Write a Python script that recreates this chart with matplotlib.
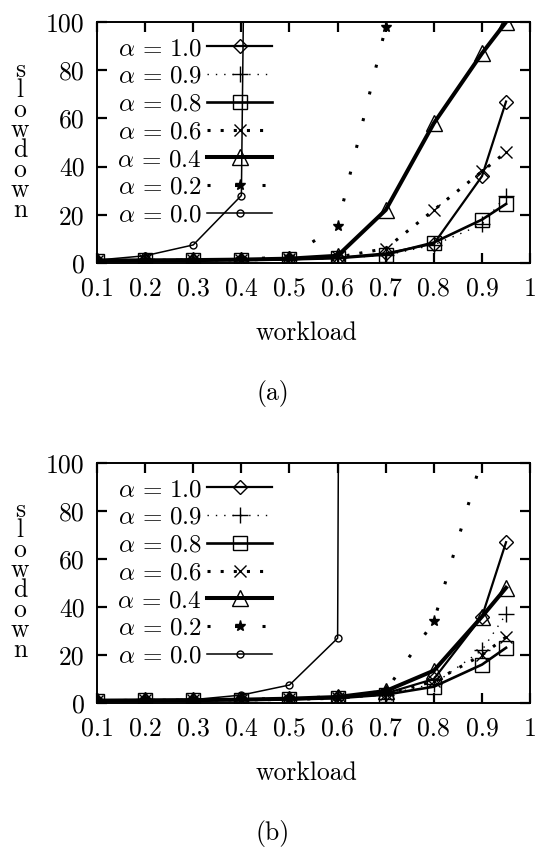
import matplotlib
matplotlib.use("Agg")
import matplotlib.pyplot as plt

plt.rcParams['font.family'] = 'cmr10'
plt.rcParams['mathtext.fontset'] = 'cm'
plt.rcParams['axes.formatter.use_mathtext'] = True

# workload values
x = [0.1, 0.2, 0.3, 0.4, 0.5, 0.6, 0.7, 0.8, 0.9, 0.95]

# (a)
a_10 = [1.0, 1.1, 1.2, 1.3, 1.5, 2.2, 4.0, 8.0, 36, 67]
a_09 = [1.0, 1.1, 1.2, 1.3, 1.5, 2.0, 3.2, 7.5, 16, 28]
a_08 = [1.0, 1.1, 1.2, 1.3, 1.5, 2.0, 3.5, 8.5, 18, 24.5]
a_06 = [1.0, 1.1, 1.2, 1.3, 1.6, 2.4, 6.0, 22, 38, 46]
a_04 = [1.0, 1.1, 1.2, 1.4, 1.8, 3.0, 22, 58, 87, 100]
a_02 = [1.0, 1.1, 1.3, 1.6, 2.5, 15.5, 98]
a_00 = [1.2, 3.0, 7.5, 28, 1830]

# (b)
b_10 = [1.0, 1.1, 1.2, 1.4, 1.7, 2.3, 4.0, 10, 36, 67]
b_09 = [1.0, 1.1, 1.2, 1.3, 1.5, 2.0, 3.5, 8.0, 22, 37]
b_08 = [1.0, 1.1, 1.2, 1.3, 1.5, 2.0, 3.5, 6.8, 16, 23]
b_06 = [1.0, 1.1, 1.2, 1.3, 1.5, 2.0, 3.8, 9.0, 20, 27.5]
b_04 = [1.0, 1.1, 1.2, 1.4, 1.8, 2.5, 5.0, 13.5, 36, 48]
b_02 = [1.0, 1.1, 1.2, 1.5, 2.0, 2.6, 5.0, 34, 102]
b_00 = [1.2, 1.4, 1.4, 3.3, 7.5, 27, 5000]

labels = [r'$\alpha\,=\,1.0$', r'$\alpha\,=\,0.9$', r'$\alpha\,=\,0.8$', r'$\alpha\,=\,0.6$',
          r'$\alpha\,=\,0.4$', r'$\alpha\,=\,0.2$', r'$\alpha\,=\,0.0$']

styles = [
    dict(ls='-', lw=1.6, marker='D', ms=7.5),
    dict(ls=(0, (1, 5)), lw=1.0, marker='+', ms=12),
    dict(ls='-', lw=1.9, marker='s', ms=9.5),
    dict(ls=(0, (1, 3.3)), lw=2.2, marker='x', ms=9),
    dict(ls='-', lw=2.9, marker='^', ms=12),
    dict(ls=(0, (1, 8)), lw=2.2, marker='*', ms=8),
    dict(ls='-', lw=1.1, marker='o', ms=5),
]


def draw(ax, series):
    for ys, lab, st in zip(series, labels, styles):
        filled = st['marker'] == '*'
        ax.plot(x[:len(ys)], ys, color='black', label=lab,
                mfc='black' if filled else 'none', mec='black', mew=1.0,
                dash_capstyle='butt', **st)
    ax.set_xlim(0.1, 1.0)
    ax.set_ylim(0, 100)
    ax.set_xticks([0.1, 0.2, 0.3, 0.4, 0.5, 0.6, 0.7, 0.8, 0.9, 1.0])
    ax.set_xticklabels(['0.1', '0.2', '0.3', '0.4', '0.5', '0.6', '0.7', '0.8', '0.9', '1'])
    ax.set_yticks([0, 20, 40, 60, 80, 100])
    ax.set_yticklabels(['0', '20', '40', '60', '80', '100'])
    ax.tick_params(direction='in', length=7, width=1.6, top=True, right=True,
                   labelsize=18.5)
    ax.tick_params(axis='y', pad=9)
    ax.tick_params(axis='x', pad=10)
    for s in ax.spines.values():
        s.set_linewidth(1.4)
    ax.legend(loc='upper left', bbox_to_anchor=(0.047, 0.935), frameon=False,
              markerfirst=False, fontsize=18, numpoints=1, handlelength=2.6,
              handletextpad=0.2, labelspacing=0.21, borderpad=0, borderaxespad=0)


fig = plt.figure(figsize=(5.36, 8.47), dpi=100)

ax1 = fig.add_axes([0.181, 0.6895, 0.808, 0.2845])
draw(ax1, [a_10, a_09, a_08, a_06, a_04, a_02, a_00])

ax2 = fig.add_axes([0.181, 0.170, 0.808, 0.2834])
draw(ax2, [b_10, b_09, b_08, b_06, b_04, b_02, b_00])

stacked = '\n'.join('slowdown')
fig.text(20 / 536, 1 - 140 / 847, stacked, ha='center', va='center',
         fontsize=18.5, linespacing=0.8)
fig.text(20 / 536, 1 - 580 / 847, stacked, ha='center', va='center',
         fontsize=18.5, linespacing=0.8)

fig.text(306 / 536, 1 - 333 / 847, 'workload', ha='center', va='center', fontsize=18.5)
fig.text(306 / 536, 1 - 773 / 847, 'workload', ha='center', va='center', fontsize=18.5)
fig.text(273 / 536, 1 - 393 / 847, '(a)', ha='center', va='center', fontsize=18.5)
fig.text(273 / 536, 1 - 833 / 847, '(b)', ha='center', va='center', fontsize=18.5)

fig.savefig('out.png', dpi=100)
